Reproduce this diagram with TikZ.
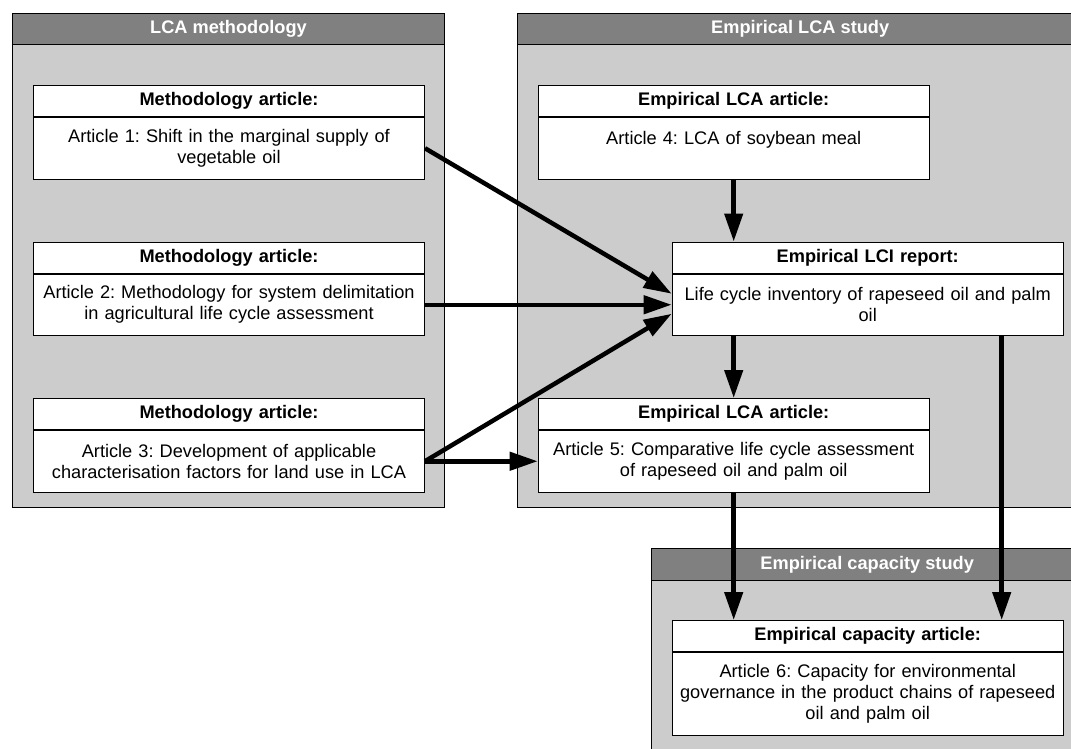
\documentclass[tikz,border=0pt]{standalone}
\usepackage{fontspec}
\setmainfont{Liberation Sans}
\usetikzlibrary{arrows.meta,positioning}
\frenchspacing

\begin{document}
\begin{tikzpicture}[
  x=1pt, y=1pt,
  font=\fontsize{18.2}{21}\selectfont,
  node distance=62pt,
  panel/.style={draw, fill=gray!40, line width=1pt, anchor=north west, inner sep=0pt},
  phead/.style={panel, fill=gray, text=white, font=\fontsize{18.2}{21}\selectfont\bfseries,
                minimum height=31.3pt},
  ahead/.style={draw, fill=white, line width=1pt, text width=384pt, inner xsep=3.5pt, inner ysep=0pt,
                align=center, minimum height=31pt, font=\fontsize{18.2}{21}\selectfont\bfseries},
  abody/.style={ahead, font=\fontsize{18.2}{21}\selectfont, minimum height=61.5pt},
  arr/.style={-{Triangle[length=28pt, width=18pt]}, line width=4.5pt}
]
\useasboundingbox (0,0) rectangle (1071,-749);
\clip (0,0) rectangle (1071,-749);
\node[panel, minimum width=432pt, minimum height=494pt] (lp) at (12,-12.7) {};
\node[phead, minimum width=432pt] (lph) at (lp.north west) {LCA methodology};
\node[panel, minimum width=566pt, minimum height=494pt] (rp) at (516.7,-12.7) {};
\node[phead, minimum width=566pt] (rph) at (rp.north west) {Empirical LCA study};
\node[panel, minimum width=432pt, minimum height=220pt] (cp) at (650.7,-548.3) {};
\node[phead, minimum width=432pt] (cph) at (cp.north west) {Empirical capacity study};
\node[ahead, anchor=north west] (a1h) at (33,-85) {Methodology article:};
\node[abody, below=0pt of a1h] (a1b) {Article 1: Shift in the marginal supply of\\vegetable oil};
\node[ahead, below=of a1b] (a2h) {Methodology article:};
\node[abody, below=0pt of a2h] (a2b) {Article 2: Methodology for system delimitation\\in agricultural life cycle assessment};
\node[ahead, below=of a2b] (a3h) {Methodology article:};
\node[abody, below=0pt of a3h] (a3b) {Article 3: Development of applicable\\characterisation factors for land use in LCA};
\node[ahead, anchor=north west] (a4h) at (537.7,-85) {Empirical LCA article:};
\node[abody, below=0pt of a4h] (a4b) {Article 4: LCA of soybean meal\\\mbox{}};
\node[ahead, below=of a4b, xshift=134pt] (lcih) {Empirical LCI report:};
\node[abody, below=0pt of lcih] (lcib) {Life cycle inventory of rapeseed oil and palm\\oil};
\node[ahead, below=of lcib, xshift=-134pt] (a5h) {Empirical LCA article:};
\node[abody, below=0pt of a5h] (a5b) {Article 5: Comparative life cycle assessment\\of rapeseed oil and palm oil};
\node[ahead, anchor=north west] (a6h) at (671.7,-620) {Empirical capacity article:};
\node[abody, below=0pt of a6h, minimum height=82.6pt] (a6b) {Article 6: Capacity for environmental\\governance in the product chains of rapeseed\\oil and palm oil};
\coordinate (drop) at ([xshift=-62pt]lcib.south east);
\draw[arr] (a4b) -- (a4b |- lcih.north);
\draw[arr] (a1b.east) -- ([yshift=11pt]lcib.west);
\draw[arr] (a2b.east) -- (lcib.west);
\draw[arr] (a3b.east) -- ([yshift=-9pt]lcib.west);
\draw[arr] (a3b.east) -- (a5b.west);
\draw[arr] (a5h.north |- lcib.south) -- (a5h.north);
\draw[arr] (a5b.south) -- (a5b.south |- a6h.north);
\draw[arr] (drop) -- (drop |- a6h.north);
\end{tikzpicture}
\end{document}
